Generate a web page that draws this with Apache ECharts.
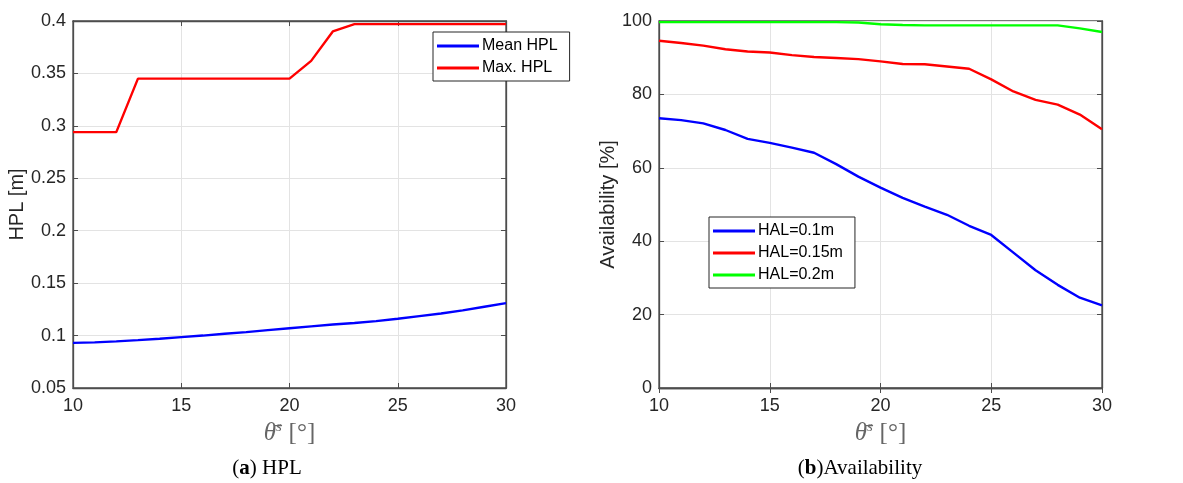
<!DOCTYPE html>
<html>
<head>
<meta charset="utf-8">
<script src="https://cdn.jsdelivr.net/npm/echarts@6/dist/echarts.min.js"></script>
<style>
  html, body { margin: 0; padding: 0; background: #fff; }
  #chart { width: 1183px; height: 483px; }
</style>
</head>
<body>
<div id="chart"></div>
<script>
// Mask elevation angle (degrees)
const elevation = [10,11,12,13,14,15,16,17,18,19,20,21,22,23,24,25,26,27,28,29,30];

// Panel (a): protection levels [m]
const meanHPL = [0.093,0.0935,0.0945,0.0957,0.097,0.0985,0.100,0.1017,0.1033,0.1052,0.107,
                 0.1088,0.1105,0.112,0.1138,0.116,0.1185,0.121,0.124,0.1275,0.131];
const maxHPL  = [0.294,0.294,0.294,0.345,0.345,0.345,0.345,0.345,0.345,0.345,0.345,
                 0.362,0.390,0.397,0.397,0.397,0.397,0.397,0.397,0.397,0.397];

// Panel (b): availability [%] per horizontal alert limit
const hal010 = [73.5,73.0,72.1,70.3,67.9,66.8,65.5,64.1,61.0,57.6,54.6,
                51.8,49.4,47.2,44.2,41.7,36.9,32.1,28.1,24.6,22.5];
const hal015 = [94.6,94.0,93.3,92.3,91.7,91.4,90.7,90.2,89.9,89.6,89.0,
                88.3,88.2,87.6,87.0,84.1,80.8,78.5,77.2,74.5,70.5];
const hal020 = [99.7,99.7,99.7,99.7,99.7,99.7,99.7,99.7,99.7,99.6,99.1,
                98.9,98.8,98.8,98.8,98.8,98.8,98.8,98.8,98.0,97.0];

const pair = (ys) => elevation.map((x, i) => [x, ys[i]]);

const AX = '#262626';
const BOX = '#4d4d4d';
const GRIDC = '#e3e3e3';
const SANS = 'Liberation Sans, Arial, sans-serif';
const SERIF = 'Liberation Serif, Times New Roman, serif';

const xName = {
  name: '{t|θ̄}{s|s}  {b|[°]}',
  nameLocation: 'middle',
  nameGap: 30,
  nameTextStyle: {
    color: '#666',
    rich: {
      t: { fontFamily: SERIF, fontStyle: 'italic', fontSize: 25, color: '#666' },
      s: { fontFamily: SERIF, fontStyle: 'italic', fontSize: 15, color: '#666', verticalAlign: 'top', padding: [0, 0, 12, 0] },
      b: { fontFamily: SERIF, fontSize: 25, color: '#666' }
    }
  }
};

function mainX(gridIndex) {
  return Object.assign({
    type: 'value', gridIndex, min: 10, max: 30, interval: 5,
    axisLine: { lineStyle: { color: BOX, width: 1.3 } },
    axisTick: { inside: true, length: 5, lineStyle: { color: BOX } },
    axisLabel: { color: AX, fontSize: 18, fontFamily: SANS, margin: 9 },
    splitLine: { show: true, lineStyle: { color: GRIDC, width: 1 } }
  }, xName);
}
function mirrorX(gridIndex) {
  return {
    type: 'value', gridIndex, min: 10, max: 30, interval: 5, position: 'top',
    axisLine: { lineStyle: { color: BOX, width: 1.3 } },
    axisTick: { inside: true, length: 5, lineStyle: { color: BOX } },
    axisLabel: { show: false }, splitLine: { show: false }
  };
}
function mainY(gridIndex, min, max, interval, name, gap) {
  return {
    type: 'value', gridIndex, min, max, interval,
    name, nameLocation: 'middle', nameGap: gap,
    nameTextStyle: { color: AX, fontSize: 20, fontFamily: SANS },
    axisLine: { show: true, lineStyle: { color: BOX, width: 1.3 } },
    axisTick: { show: true, inside: true, length: 5, lineStyle: { color: BOX } },
    axisLabel: { color: AX, fontSize: 18, fontFamily: SANS, margin: 7 },
    splitLine: { show: true, lineStyle: { color: GRIDC, width: 1 } }
  };
}
function mirrorY(gridIndex, min, max, interval) {
  return {
    type: 'value', gridIndex, min, max, interval, position: 'right',
    axisLine: { show: true, lineStyle: { color: BOX, width: 1.3 } },
    axisTick: { show: true, inside: true, length: 5, lineStyle: { color: BOX } },
    axisLabel: { show: false }, splitLine: { show: false }
  };
}

function lineSeries(name, data, color, xi, yi) {
  return {
    type: 'line', name, data, xAxisIndex: xi, yAxisIndex: yi,
    showSymbol: false, symbol: 'none', smooth: false,
    lineStyle: { color, width: 2.4 }, itemStyle: { color },
    animation: false
  };
}

const legendCommon = {
  orient: 'vertical',
  icon: 'rect', itemWidth: 42, itemHeight: 3, itemGap: 6,
  backgroundColor: '#fff', borderColor: AX, borderWidth: 1,
  padding: [6, 12, 5, 4],
  textStyle: { color: '#000', fontSize: 16, fontFamily: SANS, padding: [0, 0, 0, -2] }
};

const captionRich = {
  p: { fontFamily: SERIF, fontSize: 21, fontWeight: 'normal', color: '#000' },
  b: { fontFamily: SERIF, fontSize: 21, fontWeight: 'bold', color: '#000' }
};

const chart = echarts.init(document.getElementById('chart'), null, { renderer: 'canvas' });
chart.setOption({
  backgroundColor: '#fff',
  animation: false,
  grid: [
    { left: 73, right: 677, top: 21, bottom: 95, show: true, borderColor: BOX, borderWidth: 1.3 },
    { left: 659, right: 81, top: 21, bottom: 95, show: true, borderColor: BOX, borderWidth: 1.3 }
  ],
  xAxis: [mainX(0), mainX(1), mirrorX(0), mirrorX(1)],
  yAxis: [
    mainY(0, 0.05, 0.4, 0.05, 'HPL [m]', 43),
    mainY(1, 0, 100, 20, 'Availability [%]', 33),
    mirrorY(0, 0.05, 0.4, 0.05),
    mirrorY(1, 0, 100, 20)
  ],
  legend: [
    Object.assign({ data: ['Mean HPL', 'Max. HPL'], left: 433, top: 32 }, legendCommon),
    Object.assign({ data: ['HAL=0.1m', 'HAL=0.15m', 'HAL=0.2m'], left: 709, top: 217 }, legendCommon)
  ],
  title: [
    {
      text: '{p|(}{b|a}{p|) HPL}', left: 262, top: 453, textAlign: 'center',
      textStyle: { fontWeight: 'normal', rich: captionRich }
    },
    {
      text: '{p|(}{b|b}{p|)Availability}', left: 855, top: 453, textAlign: 'center',
      textStyle: { fontWeight: 'normal', rich: captionRich }
    }
  ],
  series: [
    lineSeries('Mean HPL', pair(meanHPL), '#0000ff', 0, 0),
    lineSeries('Max. HPL', pair(maxHPL), '#ff0000', 0, 0),
    lineSeries('HAL=0.1m', pair(hal010), '#0000ff', 1, 1),
    lineSeries('HAL=0.15m', pair(hal015), '#ff0000', 1, 1),
    lineSeries('HAL=0.2m', pair(hal020), '#00ff00', 1, 1)
  ]
});
</script>
</body>
</html>
